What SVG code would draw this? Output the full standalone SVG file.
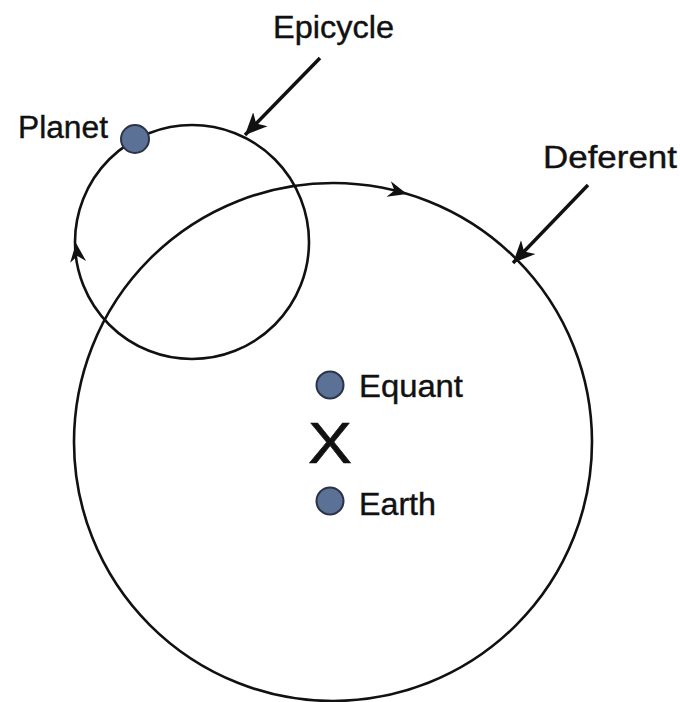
<svg xmlns="http://www.w3.org/2000/svg" width="680" height="702" viewBox="0 0 680 702">
  <style>
    .orbit { fill: none; stroke: #111; stroke-width: 2.6; }
    .dot { fill: #5b7196; stroke: #2b3346; stroke-width: 2; }
    .lbl { font-family: "Liberation Sans", Arial, sans-serif; font-size: 31px; fill: #111; stroke: #111; stroke-width: 0.4; }
    .ptr { stroke: #111; stroke-width: 3.5; fill: none; }
    .head { fill: #111; }
  </style>
  <defs>
    <marker id="arr" markerUnits="userSpaceOnUse" markerWidth="26" markerHeight="22" refX="22" refY="11" orient="auto" viewBox="0 0 26 22">
      <path d="M0,1 L22,11 L0,21 L6,11 Z" fill="#111"/>
    </marker>
    <path id="ohead" d="M0,0 L-19,-8 L-13,0 L-19,8 Z"/>
  </defs>
  <rect width="680" height="702" fill="#fff"/>

  <g id="deferent">
    <circle class="orbit" cx="333" cy="442" r="259"/>
    <use href="#ohead" class="head" transform="translate(407,194) rotate(15.5)"/>
  </g>

  <g id="epicycle">
    <circle class="orbit" cx="192" cy="242" r="117"/>
    <use href="#ohead" class="head" transform="translate(76,243) rotate(-96.4)"/>
  </g>

  <g id="planet">
    <circle class="dot" cx="135" cy="139" r="14"/>
    <text class="lbl" x="18" y="138" textLength="90" lengthAdjust="spacingAndGlyphs">Planet</text>
  </g>

  <g id="equant">
    <circle class="dot" cx="330" cy="385" r="13.5"/>
    <text class="lbl" x="359" y="397" textLength="104" lengthAdjust="spacingAndGlyphs">Equant</text>
  </g>

  <g id="center-x">
    <text class="lbl" x="308" y="463" style="font-size:57px;stroke-width:0.6" textLength="44" lengthAdjust="spacingAndGlyphs">X</text>
  </g>

  <g id="earth">
    <circle class="dot" cx="330" cy="501" r="13.5"/>
    <text class="lbl" x="359" y="515" textLength="77" lengthAdjust="spacingAndGlyphs">Earth</text>
  </g>

  <g id="epicycle-label">
    <text class="lbl" x="273" y="38" textLength="121" lengthAdjust="spacingAndGlyphs">Epicycle</text>
  </g>

  <g id="deferent-label">
    <text class="lbl" x="543" y="168" textLength="134" lengthAdjust="spacingAndGlyphs">Deferent</text>
  </g>

  <g id="connectors">
    <line class="ptr" x1="320" y1="58" x2="245" y2="135" marker-end="url(#arr)"/>
    <line class="ptr" x1="588" y1="185" x2="513" y2="263" marker-end="url(#arr)"/>
  </g>
</svg>
